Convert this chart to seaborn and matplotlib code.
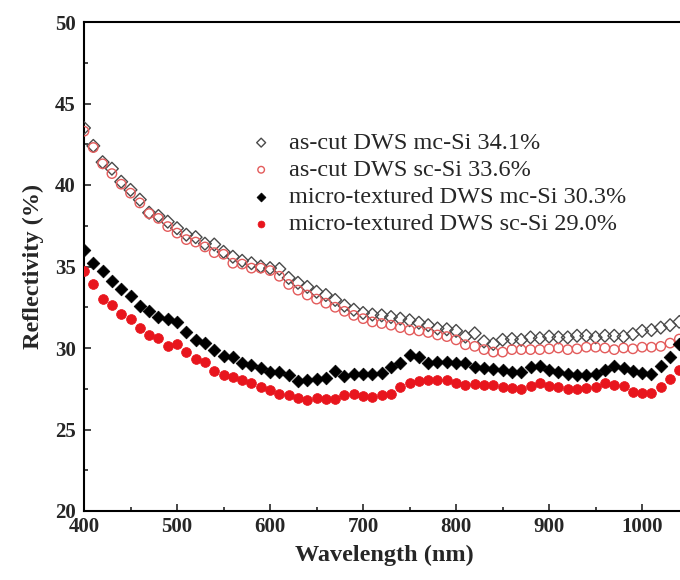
import numpy as np
import pandas as pd
import matplotlib
matplotlib.use("Agg")
import matplotlib.pyplot as plt
from matplotlib.ticker import MultipleLocator
import seaborn as sns

# Wavelength grid (nm), one sample every 10 nm
wavelength = list(range(400, 1041, 10))

ascut_mc = [43.5, 42.4, 41.4, 41.0, 40.2, 39.7, 39.1, 38.3, 38.1, 37.75,
            37.35, 36.95, 36.8, 36.4, 36.35, 35.9, 35.6, 35.35, 35.2, 35.0,
            34.9, 34.85, 34.3, 34.0, 33.75, 33.45, 33.25, 32.95, 32.6, 32.35,
            32.15, 32.05, 32.0, 31.9, 31.8, 31.7, 31.55, 31.4, 31.2, 31.15,
            31.05, 30.7, 30.9, 30.4, 30.25, 30.5, 30.55, 30.5, 30.65, 30.6,
            30.7, 30.65, 30.65, 30.75, 30.75, 30.65, 30.75, 30.75, 30.7, 30.85,
            31.05, 31.1, 31.25, 31.4, 31.6]

ascut_sc = [43.3, 42.3, 41.3, 40.7, 40.05, 39.5, 38.9, 38.25, 37.95, 37.45,
            37.05, 36.65, 36.5, 36.2, 35.85, 35.75, 35.2, 35.15, 34.9, 34.9,
            34.75, 34.4, 33.9, 33.55, 33.25, 33.0, 32.75, 32.5, 32.25, 32.0,
            31.8, 31.6, 31.5, 31.4, 31.25, 31.1, 31.05, 30.95, 30.8, 30.7,
            30.5, 30.2, 30.1, 29.9, 29.75, 29.75, 29.9, 29.9, 29.9, 29.9,
            29.95, 30.0, 29.9, 29.95, 30.05, 30.05, 30.0, 29.9, 30.0, 29.95,
            30.05, 30.05, 30.1, 30.3, 30.55]

textured_mc = [36.0, 35.2, 34.75, 34.1, 33.6, 33.2, 32.55, 32.3, 31.9, 31.8,
               31.6, 31.0, 30.5, 30.3, 29.9, 29.5, 29.45, 29.1, 28.95, 28.75,
               28.55, 28.5, 28.35, 27.95, 28.05, 28.1, 28.15, 28.6, 28.3, 28.4,
               28.4, 28.4, 28.45, 28.85, 29.1, 29.55, 29.45, 29.05, 29.15, 29.15,
               29.05, 29.05, 28.85, 28.8, 28.7, 28.65, 28.55, 28.5, 28.85, 28.9,
               28.65, 28.55, 28.4, 28.35, 28.35, 28.4, 28.65, 28.9, 28.8, 28.6,
               28.45, 28.4, 28.9, 29.45, 30.25]

textured_sc = [34.7, 33.95, 33.0, 32.65, 32.1, 31.75, 31.2, 30.8, 30.6, 30.1,
               30.25, 29.75, 29.3, 29.15, 28.6, 28.35, 28.25, 28.05, 27.85, 27.6,
               27.45, 27.2, 27.1, 26.95, 26.8, 26.95, 26.85, 26.9, 27.1, 27.15,
               27.05, 27.0, 27.1, 27.2, 27.6, 27.85, 28.0, 28.05, 28.05, 28.05,
               27.85, 27.75, 27.8, 27.7, 27.7, 27.6, 27.55, 27.5, 27.65, 27.85,
               27.65, 27.6, 27.5, 27.5, 27.55, 27.6, 27.85, 27.75, 27.65, 27.3,
               27.25, 27.25, 27.6, 28.1, 28.65]

labels = ["as-cut DWS mc-Si 34.1%",
          "as-cut DWS sc-Si 33.6%",
          "micro-textured DWS mc-Si 30.3%",
          "micro-textured DWS sc-Si 29.0%"]

sns.set_style("ticks")
plt.rcParams["font.family"] = ["Liberation Serif", "DejaVu Serif"]
plt.rcParams["mathtext.fontset"] = "stix"

fig = plt.figure(figsize=(6.8, 5.8), dpi=100)
# axes run slightly past the right edge of the canvas
ax = fig.add_axes([84 / 680, 69 / 580, 600 / 680, 489 / 580])

styles = [
    dict(y=ascut_mc, marker="D", s=42, facecolor="none", edgecolor="#4a4a4a", linewidth=1.0),
    dict(y=ascut_sc, marker="o", s=46, facecolor="none", edgecolor="#e35b5b", linewidth=1.0),
    dict(y=textured_mc, marker="D", s=42, facecolor="black", edgecolor="black", linewidth=0.5),
    dict(y=textured_sc, marker="o", s=50, facecolor="#e8151d", edgecolor="#e8151d", linewidth=0.5),
]

for lab, st in zip(labels, styles):
    df = pd.DataFrame({"Wavelength": wavelength, "R": st["y"]})
    sns.scatterplot(data=df, x="Wavelength", y="R", ax=ax, marker=st["marker"],
                    s=st["s"], facecolor=st["facecolor"], edgecolor=st["edgecolor"],
                    linewidth=st["linewidth"], label=lab, zorder=3)

ax.set_xlim(400, 1045)
ax.set_ylim(20, 50)
ax.xaxis.set_major_locator(MultipleLocator(100))
ax.xaxis.set_minor_locator(MultipleLocator(50))
ax.yaxis.set_major_locator(MultipleLocator(5))
ax.yaxis.set_minor_locator(MultipleLocator(2.5))
ax.tick_params(which="both", direction="in", width=1.2, labelsize=15)
ax.tick_params(axis="x", pad=4)
ax.tick_params(axis="y", pad=6)
ax.tick_params(which="major", length=5)
ax.tick_params(which="minor", length=3)
for t in ax.get_xticklabels() + ax.get_yticklabels():
    t.set_fontweight("bold")
for sp in ax.spines.values():
    sp.set_linewidth(1.5)
    sp.set_color("black")

ax.set_xlabel("Wavelength (nm)", fontsize=17.5, fontweight="bold", labelpad=6)
ax.set_ylabel("Reflectivity (%)", fontsize=17.5, fontweight="bold", labelpad=8)

leg = ax.legend(loc="upper left", bbox_to_anchor=(249 / 680, 1 - 132 / 580),
                bbox_transform=fig.transFigure, frameon=False, fontsize=17.5,
                markerscale=0.7, handlelength=1.0, handletextpad=0.65,
                labelspacing=0.21, borderpad=0, borderaxespad=0)

fig.savefig("out.png", dpi=100)
